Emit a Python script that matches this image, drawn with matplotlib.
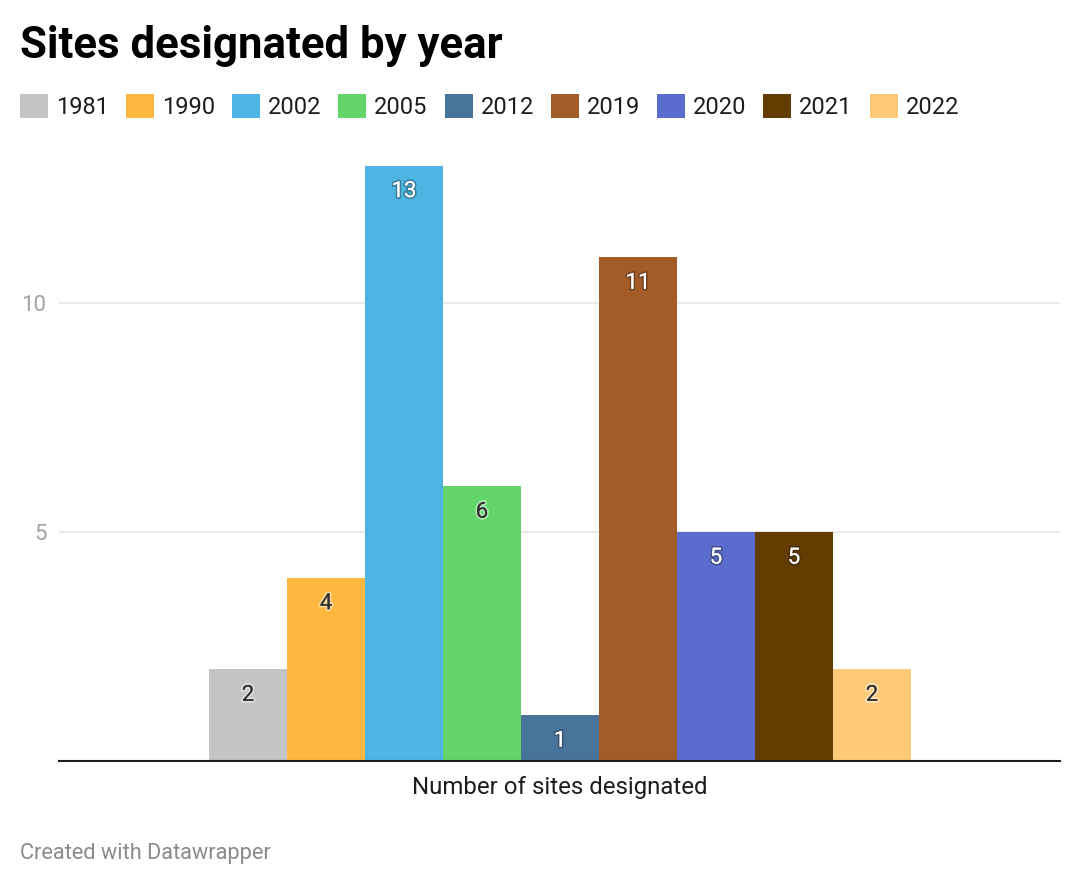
import numpy as np
import matplotlib
matplotlib.use('Agg')
import matplotlib.pyplot as plt
import matplotlib.patheffects as pe

# Données
annees = ['1981', '1990', '2002', '2005', '2012', '2019', '2020', '2021', '2022']
sites = [2, 4, 13, 6, 1, 11, 5, 5, 2]
couleurs = ['#c4c4c4', '#ffb83f', '#4db5e3', '#63d46a', '#48739b',
            '#a35b27', '#5a6dcf', '#623c00', '#ffca77']
sombres = [False, False, True, False, True, True, True, True, False]
yticks = [5, 10]

W, H = 1082, 886
plt.rcParams['font.family'] = ['Roboto', 'DejaVu Sans']

fig = plt.figure(figsize=(W / 100, H / 100), dpi=100)

# axes en pixels : gauche 59, droite 1060, base 761
ax_l, ax_r, ax_b = 59, 1060, 761
px_unit = 45.8
ymax = 13.6
ax_t = ax_b - ymax * px_unit
ax = fig.add_axes([ax_l / W, 1 - ax_b / H, (ax_r - ax_l) / W, (ax_b - ax_t) / H])

x = np.arange(len(sites))
bars = ax.bar(x, sites, width=1.0, color=couleurs, zorder=3)

bar_px = 78
span = (ax_r - ax_l) / bar_px
left = -0.5 - (209 - ax_l) / bar_px
ax.set_xlim(left, left + span)
ax.set_ylim(0, ymax)

for b, v, dark in zip(bars, sites, sombres):
    if dark:
        col = 'white'
        eff = [pe.withStroke(linewidth=2.5, foreground='#1a1a1a', alpha=0.35), pe.Normal()]
    else:
        col = '#333333'
        eff = [pe.withStroke(linewidth=2.5, foreground='white', alpha=0.5), pe.Normal()]
    ax.annotate(str(v), (b.get_x() + b.get_width() / 2, v), xytext=(0, -26),
                textcoords='offset pixels', ha='center', va='center',
                fontsize=16, color=col, path_effects=eff, zorder=4)

# grille et axes
ax.set_yticks(yticks)
ax.set_yticklabels([str(t) for t in yticks], fontsize=16, color='#a3a3a3')
ax.tick_params(axis='y', length=0, pad=9)
ax.set_xticks([])
ax.grid(axis='y', color='#e5e5e5', linewidth=1.2, zorder=0)
for s in ['top', 'right', 'left']:
    ax.spines[s].set_visible(False)
ax.spines['bottom'].set_color('#1d1d1d')
ax.spines['bottom'].set_linewidth(1.5)
ax.spines['bottom'].set_zorder(5)

ax.set_xlabel('Number of sites designated', fontsize=17.3, color='#1d1d1d', labelpad=11)

# titre, légende, source
fig.text(20 / W, 1 - 46 / H, 'Sites designated by year', fontsize=31.5, fontweight='bold',
         color='#000000', ha='left', va='center')

fig.legend(bars, annees, loc='center left', bbox_to_anchor=(20 / W, 1 - 106.5 / H),
           ncol=9, frameon=False, fontsize=17, handlelength=1.19, handleheight=1.19,
           handletextpad=0.33, columnspacing=0.72, borderaxespad=0, borderpad=0,
           labelcolor='#1d1d1d')

fig.text(20 / W, 1 - 853 / H, 'Created with Datawrapper', fontsize=15.7, color='#8a8a8a',
         ha='left', va='center')

fig.savefig('out.png', dpi=100)
